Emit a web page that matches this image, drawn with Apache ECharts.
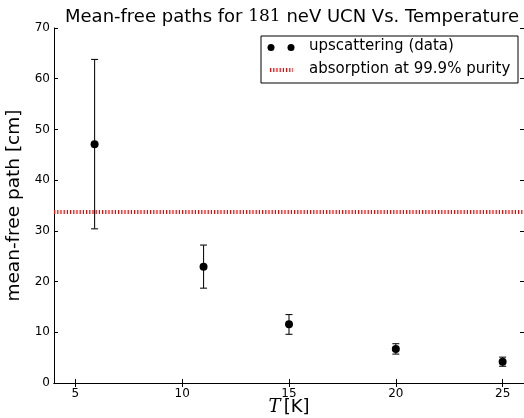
<!DOCTYPE html>
<html>
<head>
<meta charset="utf-8">
<script src="https://cdn.jsdelivr.net/npm/echarts@6/dist/echarts.min.js"></script>
<style>
  html, body { margin: 0; padding: 0; background: #fff; }
  #chart { width: 524px; height: 418px; }
</style>
</head>
<body>
<div id="chart"></div>
<script>
// data
const temps = [5.9, 11, 15, 20, 25];
const mfp = [47.1, 22.9, 11.6, 6.7, 4.2];
const errLow = [30.4, 18.7, 9.6, 5.7, 3.3];
const errHigh = [63.8, 27.2, 13.5, 7.75, 5.1];
const absorption = 33.7;
const xTicks = [5, 10, 15, 20, 25];
const xRange = [4, 26];

const font = 'DejaVu Sans';
const chart = echarts.init(document.getElementById('chart'));

const points = temps.map((t, i) => [t, mfp[i]]);
const bars = temps.map((t, i) => [t, errLow[i], errHigh[i]]);
const redDots = [1.2, 2];

const option = {
  animation: false,
  backgroundColor: '#fff',
  title: {
    text: '{a|Mean-free paths for }{b|181}{a| neV UCN Vs. Temperature}',
    left: 287, textAlign: 'center', top: 3,
    textStyle: {
      fontWeight: 'normal',
      rich: {
        a: { fontFamily: font, fontSize: 18, fontWeight: 'normal', color: '#000' },
        b: { fontFamily: 'DejaVu Serif', fontSize: 17, fontWeight: 'normal', color: '#000' }
      }
    }
  },
  grid: { left: 54, right: 0, top: 28, bottom: 35, outerBoundsMode: 'none', containLabel: false },
  xAxis: [{
    type: 'value', min: xRange[0], max: xRange[1],
    name: '{t|T} {k|[K]}', nameLocation: 'middle', nameGap: 15, nameMoveOverlap: false,
    nameTextStyle: {
      rich: {
        t: { fontFamily: 'DejaVu Serif', fontStyle: 'italic', fontSize: 18, color: '#000' },
        k: { fontFamily: font, fontSize: 18, color: '#000' }
      }
    },
    axisLine: { lineStyle: { color: '#000', width: 1 } },
    axisTick: { inside: true, length: 4, customValues: xTicks, lineStyle: { color: '#000' } },
    axisLabel: { customValues: xTicks, fontFamily: font, fontSize: 12, color: '#000', margin: 5 },
    splitLine: { show: false }
  }, {
    type: 'value', position: 'top', min: xRange[0], max: xRange[1],
    axisLine: { lineStyle: { color: '#000', width: 1 } },
    axisTick: { inside: true, length: 4, customValues: xTicks, lineStyle: { color: '#000' } },
    axisLabel: { show: false },
    splitLine: { show: false }
  }],
  yAxis: [{
    type: 'value', min: 0, max: 70, interval: 10,
    name: 'mean-free path [cm]', nameLocation: 'middle', nameGap: 30, nameMoveOverlap: false,
    nameTextStyle: { fontFamily: font, fontSize: 18.5, color: '#000' },
    axisLine: { show: true, lineStyle: { color: '#000', width: 1 } },
    axisTick: { show: true, inside: true, length: 4, lineStyle: { color: '#000' } },
    axisLabel: { fontFamily: font, fontSize: 12, color: '#000', margin: 4 },
    splitLine: { show: false }
  }, {
    type: 'value', position: 'right', min: 0, max: 70, interval: 10,
    axisLine: { show: true, lineStyle: { color: '#000', width: 1 } },
    axisTick: { show: true, inside: true, length: 4, lineStyle: { color: '#000' } },
    axisLabel: { show: false },
    splitLine: { show: false }
  }],
  series: [
    {
      name: 'absorption at 99.9% purity',
      type: 'line',
      data: [[xRange[0], absorption], [xRange[1], absorption]],
      symbol: 'none',
      lineStyle: { color: '#ff0000', width: 4, type: redDots },
      z: 2
    },
    {
      name: 'error',
      type: 'custom',
      data: bars,
      renderItem: function (params, api) {
        const x = api.value(0);
        const lo = api.coord([x, api.value(1)]);
        const hi = api.coord([x, api.value(2)]);
        const w = 3.5;
        const st = { stroke: '#111', lineWidth: 1.1 };
        return {
          type: 'group',
          children: [
            { type: 'line', shape: { x1: lo[0], y1: lo[1], x2: hi[0], y2: hi[1] }, style: st },
            { type: 'line', shape: { x1: lo[0] - w, y1: lo[1], x2: lo[0] + w, y2: lo[1] }, style: st },
            { type: 'line', shape: { x1: hi[0] - w, y1: hi[1], x2: hi[0] + w, y2: hi[1] }, style: st }
          ]
        };
      },
      z: 3
    },
    {
      name: 'upscattering (data)',
      type: 'scatter',
      data: points,
      symbol: 'circle',
      symbolSize: 8,
      itemStyle: { color: '#000', opacity: 1 },
      z: 4
    }
  ],
  graphic: [
    { type: 'rect', shape: { x: 261, y: 36, width: 257, height: 47 },
      style: { fill: '#fff', stroke: '#000', lineWidth: 1 }, z: 10 },
    { type: 'circle', shape: { cx: 271, cy: 47.5, r: 3.5 }, style: { fill: '#000' }, z: 11 },
    { type: 'circle', shape: { cx: 291, cy: 47.5, r: 3.5 }, style: { fill: '#000' }, z: 11 },
    { type: 'text', left: 309, top: 38.5,
      style: { text: 'upscattering (data)', font: '15px "DejaVu Sans"', fill: '#000' }, z: 11 },
    { type: 'line', shape: { x1: 270, y1: 70, x2: 293, y2: 70 },
      style: { stroke: '#ff0000', lineWidth: 4, lineDash: redDots }, z: 11 },
    { type: 'text', left: 309, top: 61.5,
      style: { text: 'absorption at 99.9% purity', font: '15px "DejaVu Sans"', fill: '#000' }, z: 11 }
  ]
};

chart.setOption(option);
</script>
</body>
</html>
